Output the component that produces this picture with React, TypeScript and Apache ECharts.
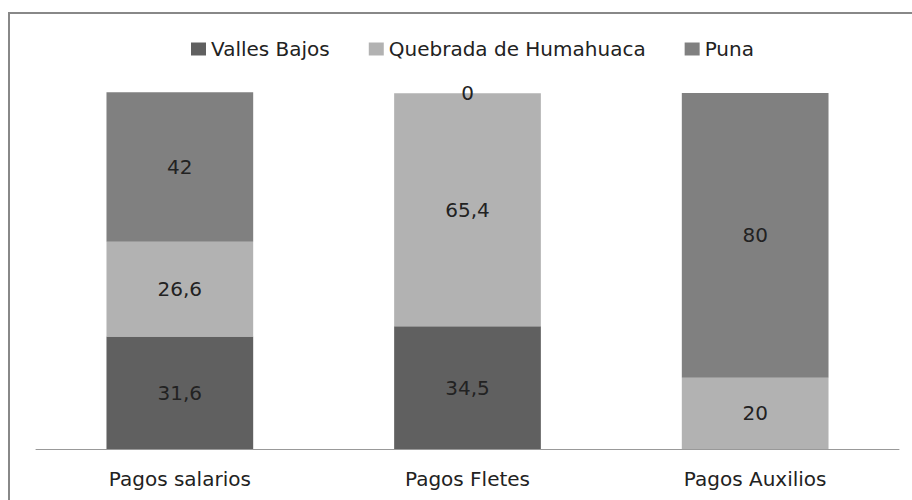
import React, { useEffect, useRef } from "react";
import * as echarts from "echarts";

const categories = ["Pagos salarios", "Pagos Fletes", "Pagos Auxilios"];
const seriesNames = ["Valles Bajos", "Quebrada de Humahuaca", "Puna"];
const vallesBajos = [31.6, 34.5, null];
const quebrada = [26.6, 65.4, 20];
const puna = [42, 0, 80];
const colors = ["#606060", "#b2b2b2", "#808080"];

export default function App() {
  const ref = useRef<HTMLDivElement>(null);
  useEffect(() => {
    document.body.style.margin = "0";
    const chart = echarts.init(ref.current!, null, { renderer: "svg" });
    const values = [vallesBajos, quebrada, puna];
    const font = "'DejaVu Sans', sans-serif";
    chart.setOption({
      animation: false,
      color: colors,
      legend: {
        top: 34,
        left: 186,
        itemWidth: 15,
        itemHeight: 13,
        itemGap: 39,
        icon: "rect",
        textStyle: { fontFamily: font, fontSize: 20, color: "#222" },
        data: seriesNames,
      },
      graphic: [
        {
          type: "rect",
          shape: { x: 9, y: 13, width: 940, height: 520 },
          style: { fill: "none", stroke: "#888", lineWidth: 2 },
          silent: true,
        },
      ],
      grid: { left: 36, right: 13, top: 93, bottom: 51 },
      xAxis: {
        type: "category",
        data: categories,
        axisTick: { show: false },
        axisLine: { lineStyle: { color: "#999", width: 1 } },
        axisLabel: { fontFamily: font, fontSize: 20, color: "#222", margin: 20 },
      },
      yAxis: { type: "value", min: 0, max: 100, show: false, splitLine: { show: false } },
      series: seriesNames.map((name, i) => ({
        name,
        type: "bar",
        stack: "total",
        data: values[i],
        barWidth: "51%",
        clip: false,
        label: {
          show: true,
          position: "inside",
          fontFamily: font,
          fontSize: 20,
          color: "#222",
          formatter: (p: any) => String(p.value).replace(".", ","),
        },
      })),
    });
    return () => chart.dispose();
  }, []);
  return <div ref={ref} style={{ width: 912, height: 500 }} />;
}
